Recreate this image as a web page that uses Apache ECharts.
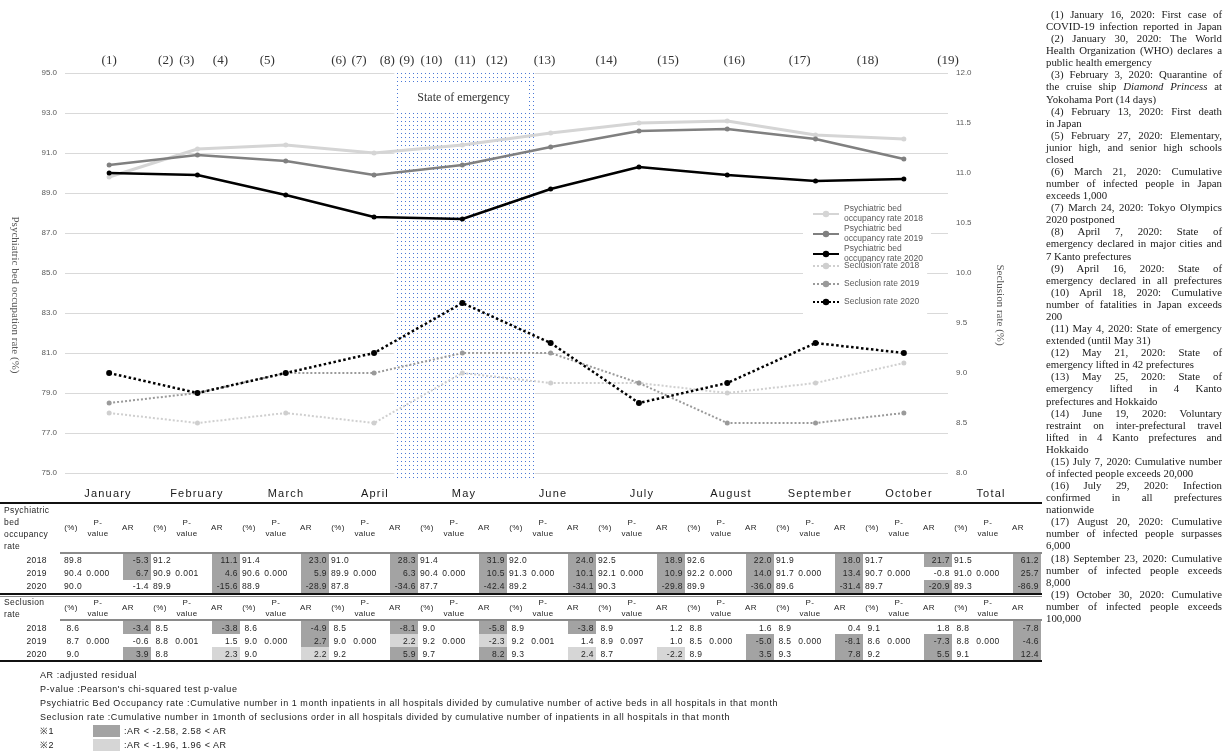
<!DOCTYPE html>
<html>
<head>
<meta charset="utf-8">
<title>Psychiatric bed occupancy and seclusion rates, 2018–2020</title>
<script src="https://cdn.jsdelivr.net/npm/echarts@6.0.0/dist/echarts.min.js"></script>
<style>
html,body{margin:0;padding:0;background:#fff;}
#wrap{position:relative;width:1223px;height:752px;overflow:hidden;background:#fff;}
#chart{position:absolute;left:0;top:0;width:1223px;height:752px;}
#layer{position:absolute;left:0;top:0;width:1223px;height:752px;pointer-events:none;}
.t{position:absolute;white-space:nowrap;font-family:"Liberation Sans",Arial,sans-serif;font-size:8.5px;color:#262626;letter-spacing:0.4px;line-height:1;}
.r{position:absolute;}
#events{position:absolute;left:1046px;top:8px;width:176px;font-family:"Liberation Serif","DejaVu Serif",serif;font-size:10.8px;line-height:12.08px;color:#1a1a1a;}
#events div{white-space:nowrap;}
#events div.j{text-align:justify;text-align-last:justify;white-space:normal;}
#events div.first{text-indent:5px;}
</style>
</head>
<body>
<div id="wrap">
  <div id="chart"></div>
  <div id="layer"></div>
  <div id="events"></div>
</div>
<script>
// ---- data -------------------------------------------------------------
const months = ['January','February','March','April','May','June','July','August','September','October'];

// psychiatric bed occupancy rate (%), monthly
const bed2018 = [89.8, 91.2, 91.4, 91.0, 91.4, 92.0, 92.5, 92.6, 91.9, 91.7];
const bed2019 = [90.4, 90.9, 90.6, 89.9, 90.4, 91.3, 92.1, 92.2, 91.7, 90.7];
const bed2020 = [90.0, 89.9, 88.9, 87.8, 87.7, 89.2, 90.3, 89.9, 89.6, 89.7];
const bedTotal = [91.5, 91.0, 89.3];               // 2018, 2019, 2020
const bedP = ['0.000','0.001','0.000','0.000','0.000','0.000','0.000','0.000','0.000','0.000','0.000'];
const bedAR2018 = [-5.3, 11.1, 23.0, 28.3, 31.9, 24.0, 18.9, 22.0, 18.0, 21.7, 61.2];
const bedAR2019 = [6.7, 4.6, 5.9, 6.3, 10.5, 10.1, 10.9, 14.0, 13.4, -0.8, 25.7];
const bedAR2020 = [-1.4, -15.6, -28.9, -34.6, -42.4, -34.1, -29.8, -36.0, -31.4, -20.9, -86.9];

// seclusion rate (%), monthly
const sec2018 = [8.6, 8.5, 8.6, 8.5, 9.0, 8.9, 8.9, 8.8, 8.9, 9.1];
const sec2019 = [8.7, 8.8, 9.0, 9.0, 9.2, 9.2, 8.9, 8.5, 8.5, 8.6];
const sec2020 = [9.0, 8.8, 9.0, 9.2, 9.7, 9.3, 8.7, 8.9, 9.3, 9.2];
const secTotal = [8.8, 8.8, 9.1];
const secP = ['0.000','0.001','0.000','0.000','0.000','0.001','0.097','0.000','0.000','0.000','0.000'];
const secAR2018 = [-3.4, -3.8, -4.9, -8.1, -5.8, -3.8, 1.2, 1.6, 0.4, 1.8, -7.8];
const secAR2019 = [-0.6, 1.5, 2.7, 2.2, -2.3, 1.4, 1.0, -5.0, -8.1, -7.3, -4.6];
const secAR2020 = [3.9, 2.3, 2.2, 5.9, 8.2, 2.4, -2.2, 3.5, 7.8, 5.5, 12.4];

const years = ['2018','2019','2020'];

// state of emergency band (April 7 – May 25), in month units along the x axis
const emergency = [3.23, 4.82];

// event markers (1)–(19), positions in month units along the x axis
const eventPos = [0, 0.64, 0.88, 1.26, 1.79, 2.60, 2.83, 3.15, 3.37, 3.65, 4.03, 4.39, 4.93, 5.63, 6.33, 7.08, 7.82, 8.59, 9.50];

// event notes, one entry per printed line: [text, justified]
const eventNotes = [
  [['(1) January 16, 2020: First case of',1],['COVID-19 infection reported in Japan',1]],
  [['(2) January 30, 2020: The World',1],['Health Organization (WHO) declares a',1],['public health emergency',0]],
  [['(3) February 3, 2020: Quarantine of',1],['the cruise ship <i>Diamond Princess</i> at',1],['Yokohama Port (14 days)',0]],
  [['(4) February 13, 2020: First death',1],['in Japan',0]],
  [['(5) February 27, 2020: Elementary,',1],['junior high, and senior high schools',1],['closed',0]],
  [['(6) March 21, 2020: Cumulative',1],['number of infected people in Japan',1],['exceeds 1,000',0]],
  [['(7) March 24, 2020: Tokyo Olympics',1],['2020 postponed',0]],
  [['(8) April 7, 2020: State of',1],['emergency declared in major cities and',1],['7 Kanto prefectures',0]],
  [['(9) April 16, 2020: State of',1],['emergency declared in all prefectures',1]],
  [['(10) April 18, 2020: Cumulative',1],['number of fatalities in Japan exceeds',1],['200',0]],
  [['(11) May 4, 2020: State of emergency',1],['extended (until May 31)',0]],
  [['(12) May 21, 2020: State of',1],['emergency lifted in 42 prefectures',0]],
  [['(13) May 25, 2020: State of',1],['emergency lifted in 4 Kanto',1],['prefectures and Hokkaido',0]],
  [['(14) June 19, 2020: Voluntary',1],['restraint on inter-prefectural travel',1],['lifted in 4 Kanto prefectures and',1],['Hokkaido',0]],
  [['(15) July 7, 2020: Cumulative number',1],['of infected people exceeds 20,000',0]],
  [['(16) July 29, 2020: Infection',1],['confirmed in all prefectures',1],['nationwide',0]],
  [['(17) August 20, 2020: Cumulative',1],['number of infected people surpasses',1],['6,000',0]],
  [['(18) September 23, 2020: Cumulative',1],['number of infected people exceeds',1],['8,000',0]],
  [['(19) October 30, 2020: Cumulative',1],['number of infected people exceeds',1],['100,000',0]]
];

// ---- chart --------------------------------------------------------------
const SANS = '"Liberation Sans", Arial, sans-serif';
const SERIF = '"Liberation Serif", "DejaVu Serif", serif';

const chart = echarts.init(document.getElementById('chart'), null, {renderer: 'canvas'});

function lineSeries(name, data, axis, color, width, dotted, size) {
  return {
    name, type: 'line', data, yAxisIndex: axis, xAxisIndex: 0,
    symbol: 'circle', symbolSize: size, z: 10,
    lineStyle: {color, width, type: dotted ? 'dotted' : 'solid'},
    itemStyle: {color},
    emphasis: {disabled: true}
  };
}

const bedNames = ['Psychiatric bed\noccupancy rate 2018', 'Psychiatric bed\noccupancy rate 2019', 'Psychiatric bed\noccupancy rate 2020'];
const secNames = ['Seclusion rate 2018', 'Seclusion rate 2019', 'Seclusion rate 2020'];

const legendBase = {
  orient: 'vertical', left: 803, itemWidth: 26, itemHeight: 8,
  backgroundColor: '#fff', selectedMode: false, z: 20,
  textStyle: {fontFamily: SANS, fontSize: 8.5, lineHeight: 10, color: '#595959'}
};

const option = {
  animation: false,
  backgroundColor: '#fff',
  grid: {left: 65, right: 275, top: 73, bottom: 279},
  xAxis: [
    {type: 'category', data: months, boundaryGap: true,
     axisLine: {show: false}, axisTick: {show: false}, axisLabel: {show: false}, splitLine: {show: false}},
    {type: 'value', min: -0.5, max: 9.5, show: false}
  ],
  yAxis: [
    {type: 'value', min: 75, max: 95, interval: 2,
     axisLine: {show: false}, axisTick: {show: false},
     axisLabel: {formatter: v => v.toFixed(1), fontFamily: SANS, fontSize: 8, color: '#595959', margin: 8},
     splitLine: {lineStyle: {color: '#d9d9d9', width: 1}}},
    {type: 'value', min: 8, max: 12, interval: 0.5, position: 'right',
     axisLine: {show: false}, axisTick: {show: false},
     axisLabel: {formatter: v => v.toFixed(1), fontFamily: SANS, fontSize: 8, color: '#595959', margin: 8},
     splitLine: {show: false}}
  ],
  legend: [
    Object.assign({}, legendBase, {data: bedNames, top: 204, itemGap: 0, padding: [0, 8, 0, 9]}),
    Object.assign({}, legendBase, {data: secNames, top: 261, itemGap: 8, padding: [0, 8, 8, 9]})
  ],
  series: [
    lineSeries(bedNames[0], bed2018, 0, '#d5d5d5', 3, false, 5),
    lineSeries(bedNames[1], bed2019, 0, '#808080', 2.5, false, 5),
    lineSeries(bedNames[2], bed2020, 0, '#000000', 2.5, false, 5),
    lineSeries(secNames[0], sec2018, 1, '#cfcfcf', 2, true, 5),
    lineSeries(secNames[1], sec2019, 1, '#9a9a9a', 2, true, 5),
    lineSeries(secNames[2], sec2020, 1, '#000000', 2.5, true, 6)
  ]
};
chart.setOption(option);

// dotted blue fill for the state-of-emergency band
const tile = document.createElement('canvas');
tile.width = 4; tile.height = 4;
const tc = tile.getContext('2d');
tc.fillStyle = '#ffffff'; tc.fillRect(0, 0, 4, 4);
tc.fillStyle = '#4a78d6'; tc.fillRect(1, 1, 1, 1);

const px = v => chart.convertToPixel({xAxisIndex: 1}, v);
const py = v => chart.convertToPixel({yAxisIndex: 0}, v);
const bx1 = px(emergency[0]), bx2 = px(emergency[1]);
const bandTop = py(95) - 3, bandBottom = py(75) + 8;

const graphics = [
  {type: 'rect', z: 1, silent: true, shape: {x: bx1, y: bandTop, width: bx2 - bx1, height: bandBottom - bandTop},
   style: {fill: {image: tile, repeat: 'repeat'}}},
  {type: 'rect', z: 2, silent: true, shape: {x: bx1 + 6, y: bandTop + 15, width: bx2 - bx1 - 14, height: 27},
   style: {fill: '#fff'}},
  {type: 'text', z: 3, silent: true, x: (bx1 + bx2) / 2 - 1, y: bandTop + 28,
   style: {text: 'State of emergency', font: '12px ' + SERIF, fill: '#333', align: 'center', verticalAlign: 'middle', textAlign: 'center', textVerticalAlign: 'middle'}},
  {type: 'text', z: 3, silent: true, x: 15, y: 295, rotation: -Math.PI / 2,
   style: {text: 'Psychiatric bed occupation rate (%)', font: '11px ' + SERIF, fill: '#595959', align: 'center', verticalAlign: 'middle', textAlign: 'center', textVerticalAlign: 'middle'}},
  {type: 'text', z: 3, silent: true, x: 1000, y: 305, rotation: -Math.PI / 2,
   style: {text: 'Seclusion rate (%)', font: '11px ' + SERIF, fill: '#595959', align: 'center', verticalAlign: 'middle', textAlign: 'center', textVerticalAlign: 'middle'}}
];
eventPos.forEach((p, i) => {
  graphics.push({type: 'text', z: 3, silent: true, x: px(p), y: 61,
    style: {text: '(' + (i + 1) + ')', font: '13px ' + SERIF, fill: '#333', align: 'center', verticalAlign: 'middle', textAlign: 'center', textVerticalAlign: 'middle'}});
});
chart.setOption({graphic: graphics});

// ---- table below the plot ---------------------------------------------
const layer = document.getElementById('layer');
function put(s, x, y, align, style) {
  const d = document.createElement('div');
  d.className = 't';
  d.textContent = s;
  d.style.left = x + 'px';
  d.style.top = y + 'px';
  const tx = align === 'center' ? '-50%' : align === 'right' ? '-100%' : '0';
  d.style.transform = 'translate(' + tx + ',-50%)';
  if (style) Object.assign(d.style, style);
  layer.appendChild(d);
  return d;
}
function rect(x, y, w, h, color) {
  const d = document.createElement('div');
  d.className = 'r';
  Object.assign(d.style, {left: x + 'px', top: y + 'px', width: w + 'px', height: h + 'px', background: color});
  layer.appendChild(d);
}

const T = {x0: 63, step: 89, pct: 10, p: 35, arL: 60, arR: 88, right: 1042};
const gx = i => T.x0 + T.step * i;
const heads = months.concat(['Total']);
heads.forEach((m, i) => put(m, gx(i) + (i < 10 ? 45 : 38), 493, 'center',
  {fontSize: '11px', letterSpacing: '1.2px', color: '#1a1a1a'}));

const arShade = v => Math.abs(v) > 2.58 ? '#a3a3a3' : Math.abs(v) > 1.96 ? '#d6d6d6' : null;

function section(labels, labelYs, hdrY, rowYs, pcts, pvals, ars) {
  labels.forEach((s, k) => put(s, 4, labelYs[k], 'left'));
  for (let i = 0; i < 11; i++) {
    const g = gx(i);
    put('(%)', g + 8, hdrY, 'center', {fontSize: '8px'});
    put('P-', g + T.p, hdrY - 5.5, 'center', {fontSize: '8px'});
    put('value', g + T.p, hdrY + 5.5, 'center', {fontSize: '8px'});
    put('AR', g + 65, hdrY, 'center', {fontSize: '8px'});
  }
  const rowH = rowYs[1] - rowYs[0];
  rowYs.forEach((y, r) => {
    put(years[r], 47, y, 'right');
    for (let i = 0; i < 11; i++) {
      const g = gx(i);
      put(pcts[r][i].toFixed(1), g + T.pct, y, 'center');
      if (r === 1) put(pvals[i], g + T.p, y, 'center');
      const c = arShade(ars[r][i]);
      if (c) rect(g + T.arL, y - rowH / 2, T.arR - T.arL, rowH, c);
      put(ars[r][i].toFixed(1), g + T.arR - 2, y, 'right');
    }
  });
}

const bedRows = [bed2018.concat([bedTotal[0]]), bed2019.concat([bedTotal[1]]), bed2020.concat([bedTotal[2]])];
const secRows = [sec2018.concat([secTotal[0]]), sec2019.concat([secTotal[1]]), sec2020.concat([secTotal[2]])];

// rules
rect(0, 502, T.right, 2, '#111');
rect(60, 552, T.right - 60, 2, '#8a8a8a');
rect(0, 593, T.right, 2, '#111');
rect(0, 596, T.right, 1, '#8a8a8a');
rect(60, 619, T.right - 60, 2, '#8a8a8a');
rect(0, 660, T.right, 2, '#111');

section(['Psychiatric', 'bed', 'occupancy', 'rate'], [510, 522, 534, 546], 528,
        [560, 573, 586], bedRows, bedP, [bedAR2018, bedAR2019, bedAR2020]);
section(['Seclusion', 'rate'], [602, 614], 608,
        [627.5, 640.5, 653.5], secRows, secP, [secAR2018, secAR2019, secAR2020]);

// notes
const noteStyle = {fontSize: '9px', letterSpacing: '0.55px', color: '#1a1a1a'};
const noteY = [675, 689, 703, 717, 731, 745];
put('AR :adjusted residual', 40, noteY[0], 'left', noteStyle);
put("P-value :Pearson's chi-squared test p-value", 40, noteY[1], 'left', noteStyle);
put('Psychiatric Bed Occupancy rate :Cumulative number in 1 month inpatients in all hospitals divided by cumulative number of active beds in all hospitals in that month', 40, noteY[2], 'left', noteStyle);
put('Seclusion rate :Cumulative number in 1month of seclusions order in all hospitals divided by cumulative number of inpatients in all hospitals in that month', 40, noteY[3], 'left', noteStyle);
put('※1', 40, noteY[4], 'left', noteStyle);
rect(93, noteY[4] - 6, 27, 12, '#a3a3a3');
put(':AR < -2.58, 2.58 < AR', 124, noteY[4], 'left', noteStyle);
put('※2', 40, noteY[5], 'left', noteStyle);
rect(93, noteY[5] - 6, 27, 12, '#d6d6d6');
put(':AR < -1.96, 1.96 < AR', 124, noteY[5], 'left', noteStyle);

// event notes column
const ev = document.getElementById('events');
eventNotes.forEach(par => {
  par.forEach((ln, k) => {
    const d = document.createElement('div');
    d.innerHTML = ln[0];
    if (ln[1]) d.classList.add('j');
    if (k === 0) d.classList.add('first');
    ev.appendChild(d);
  });
});
</script>
</body>
</html>
